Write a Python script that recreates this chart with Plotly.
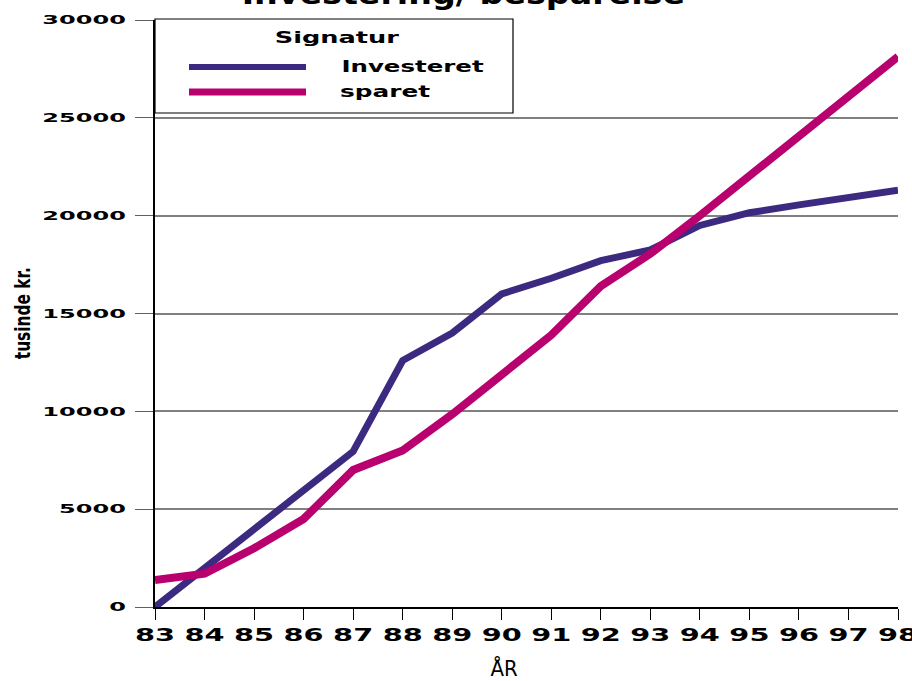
import plotly.graph_objects as go

years = [83, 84, 85, 86, 87, 88, 89, 90, 91, 92, 93, 94, 95, 96, 97, 98]
year_labels = ["83", "84", "85", "86", "87", "88", "89", "90", "91", "92", "93", "94", "95", "96", "97", "98"]
investeret = [0, 2000, 4000, 6000, 7950, 12600, 14000, 16000, 16800, 17700, 18250, 19500, 20150, 20550, 20920, 21300]
sparet = [1380, 1700, 3000, 4500, 7000, 8000, 9850, 11850, 13900, 16400, 18050, 20000, 22050, 24080, 26100, 28130]
y_ticks = [0, 5000, 10000, 15000, 20000, 25000, 30000]
series_names = ["Investeret", "sparet"]
legend_title = "Signatur"
chart_title = "Investering/ besparelse"
x_title = "ÅR"
y_title = "tusinde kr."

PURPLE = "#3c2a80"
MAGENTA = "#b8006e"

fig = go.Figure()
fig.add_trace(go.Scatter(x=years, y=investeret, mode="lines", name=series_names[0],
                         line=dict(color=PURPLE, width=7), showlegend=False))
fig.add_trace(go.Scatter(x=years, y=sparet, mode="lines", name=series_names[1],
                         line=dict(color=MAGENTA, width=8), showlegend=False))

W, H = 912, 681
L, R, T, B = 155, 14, 20, 74
pw = W - L - R
ph = H - T - B

def px(xp):
    return (xp - L) / pw

def py(yp):
    return (H - B - yp) / ph

BOLD = dict(family="DejaVu Sans", color="black", weight="bold")

fig.update_layout(
    width=W, height=H,
    margin=dict(l=L, r=R, t=T, b=B, pad=0),
    paper_bgcolor="white", plot_bgcolor="white",
    showlegend=False,
    xaxis=dict(range=[83, 98], tickmode="array", tickvals=years, ticktext=year_labels,
               showgrid=False, zeroline=False, showline=True, linecolor="black", linewidth=1.5,
               ticks="outside", ticklen=11, tickcolor="black", tickwidth=1,
               tickfont=dict(BOLD, size=18), automargin=False),
    yaxis=dict(range=[0, 30000], tickmode="array", tickvals=y_ticks,
               ticktext=[str(v) for v in y_ticks],
               showgrid=True, gridcolor="#808080", gridwidth=1.5, zeroline=False,
               showline=True, linecolor="black", linewidth=1.5,
               ticks="outside", ticklen=18, tickcolor="#606060", tickwidth=1.2,
               ticklabelstandoff=7, tickfont=dict(BOLD, size=12), automargin=False),
)

# Title (mostly cut off at the top in the reference)
fig.add_annotation(text=chart_title, xref="paper", yref="paper", x=px(463), y=py(13),
                   xanchor="center", yanchor="bottom", showarrow=False,
                   font=dict(BOLD, size=28))

# Axis titles
fig.add_annotation(text=y_title, xref="paper", yref="paper", x=px(22), y=py(313),
                   xanchor="center", yanchor="middle", textangle=-90, showarrow=False,
                   font=dict(BOLD, size=22))
fig.add_annotation(text=x_title, xref="paper", yref="paper", x=px(504), y=py(668),
                   xanchor="center", yanchor="middle", showarrow=False,
                   font=dict(family="DejaVu Sans", size=22, color="black"))

# Hand-drawn legend box ("Signatur")
fig.add_shape(type="rect", xref="paper", yref="paper", x0=px(155), x1=px(513), y0=py(113), y1=py(19),
              line=dict(color="black", width=1.2), fillcolor="white", layer="above")
fig.add_annotation(text=legend_title, xref="paper", yref="paper", x=px(337), y=py(37),
                   xanchor="center", yanchor="middle", showarrow=False,
                   font=dict(BOLD, size=16))
legend_items = [(series_names[0], PURPLE, 6, 412), (series_names[1], MAGENTA, 7, 385)]
for i, (name, color, width, cx) in enumerate(legend_items):
    yy = 67 + 25 * i
    fig.add_shape(type="line", xref="paper", yref="paper", x0=px(189), x1=px(306), y0=py(yy), y1=py(yy),
                  line=dict(color=color, width=width), layer="above")
    fig.add_annotation(text=name, xref="paper", yref="paper", x=px(cx), y=py(yy),
                       xanchor="center", yanchor="middle", showarrow=False,
                       font=dict(BOLD, size=16))

# The reference uses an extended (wide) face for labels and a condensed face for axis titles;
# emulate by stretching the SVG text horizontally around its anchor point.
post = """
var gd = document.getElementById('{plot_id}');
document.body.style.margin = '0';
document.body.style.overflow = 'hidden';
function stretch(el, s) {
  var x = parseFloat(el.getAttribute('x')) || 0;
  var t = el.getAttribute('transform') || '';
  el.setAttribute('transform', t + ' translate(' + x + ',0) scale(' + s + ',1) translate(' + (-x) + ',0)');
}
gd.querySelectorAll('.ytick text').forEach(function (e) { stretch(e, 2.0); });
gd.querySelectorAll('.xtick text').forEach(function (e) { stretch(e, 1.6); });
var ann = {'Signatur': 1.6, 'Investeret': 1.53, 'sparet': 1.55,
           'Investering/ besparelse': 1.19, 'tusinde kr.': 0.7, 'ÅR': 0.9};
gd.querySelectorAll('text.annotation-text').forEach(function (e) {
  var s = ann[e.textContent];
  if (s) { stretch(e, s); }
});
"""

fig.write_html("out.html", config={"displayModeBar": False}, post_script=post)
